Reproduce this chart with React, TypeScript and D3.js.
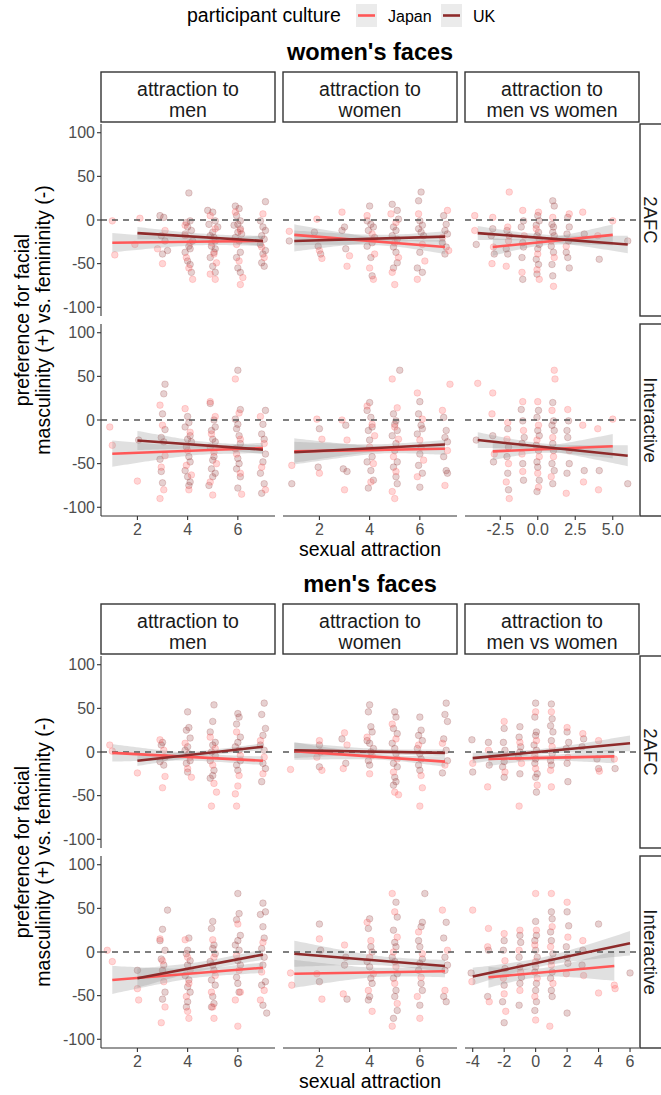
import React from "react";
import * as d3 from "d3";

// ---------- labels ----------
const legendTitle = "participant culture";
const cultures = ["Japan", "UK"];
const figureTitles = ["women's faces", "men's faces"];
const colLabels = [["attraction to", "men"], ["attraction to", "women"], ["attraction to", "men vs women"]];
const rowLabels = ["2AFC", "Interactive"];
const yTitle = ["preference for facial", "masculinity (+) vs. femininity (-)"];
const xTitle = "sexual attraction";
const yTicks = [-100, -50, 0, 50, 100];
const xTicksAbs = [2, 4, 6];
const xTicksDiffWomen = [-2.5, 0, 2.5, 5];
const xTicksDiffMen = [-4, -2, 0, 2, 4, 6];

// ---------- points (x y) ----------
// women, 2AFC
const wA1J = "1.0 -1,1.1 -40,2.1 2,1.9 -28,2.8 -33,3.0 -50,3.1 -12,3.9 -6,4.1 -26,3.95 -43,4.05 -55,4.2 -68,3.9 -18,4.9 5,5.1 -10,4.95 -26,5.05 -39,5.15 -49,4.9 -62,5.1 -68,5.9 9,6.1 -12,5.95 -28,6.05 -47,6.2 -66,6.1 -74,7.0 7,6.95 -31,7.05 -43";
const wA1U = "2.9 5,3.05 3,2.95 -18,3.1 -24,3.2 -35,3.0 -39,4.05 31,4.1 -1,3.95 -3,4.0 -8,4.15 -12,3.9 -16,4.2 -24,4.05 -30,4.1 -33,3.9 -37,4.0 -47,4.1 -51,4.15 -60,4.8 11,5.0 9,5.1 -1,4.85 -5,5.2 -8,5.0 -14,4.9 -18,5.05 -20,5.1 -24,4.95 -30,5.1 -33,5.05 -37,4.9 -43,5.0 -53,5.1 -60,5.9 16,6.05 13,5.95 5,6.1 -1,6.0 -5,5.85 -6,6.1 -10,6.0 -14,6.15 -16,5.9 -20,6.05 -24,6.1 -37,5.95 -43,6.0 -55,6.1 -60,7.1 21,6.9 -1,7.0 -8,7.1 -12,6.95 -18,7.05 -22,6.9 -28,7.1 -35,7.0 -39,6.95 -49,7.05 -53";
const wA2J = "0.8 -13,1.9 1,2.0 -35,2.1 -44,2.9 9,3.2 -41,3.1 -53,3.9 5,4.1 -16,4.2 -39,4.0 -55,4.15 -68,4.85 7,5.05 -3,5.0 -26,5.15 -43,4.9 -60,5.0 -74,5.95 7,6.1 -28,6.2 -47,5.9 -68,7.1 11,6.9 -20,7.15 -35";
const wA2U = "0.8 -24,1.8 -14,1.95 -30,2.05 -39,3.0 -8,2.9 -12,3.05 -33,4.0 16,3.9 -1,4.05 -5,4.15 -8,3.95 -12,4.2 -20,4.1 -26,3.9 -30,4.05 -43,4.1 -64,4.9 18,5.1 11,5.15 1,4.95 -8,5.05 -12,4.9 -18,5.1 -22,4.95 -31,5.05 -37,5.1 -49,4.95 -55,6.05 32,5.95 22,6.0 -1,6.1 -6,5.95 -10,6.05 -14,6.15 -18,6.0 -37,5.9 -55,6.1 -60,6.95 5,7.05 -5,7.0 -12,7.1 -16,6.9 -26,7.05 -31,7.0 -39";
const wA3J = "-4.2 5,-4.2 -12,-3.0 3,-2.95 -31,-3.05 -50,-2.0 -8,-1.95 -24,-2.1 -53,-1.9 32,-1.0 11,-0.9 -18,-1.05 -60,0.05 9,-0.1 -10,0.1 -22,0.0 -39,-0.05 -57,0.1 -68,1.0 3,0.9 -24,1.1 -43,1.05 -76,2.1 7,1.9 -30,3.0 9,4.0 -18,5.0 -1";
const wA3U = "-4.1 -28,-3.0 -10,-3.1 -18,-2.9 -39,-2.05 -12,-1.9 -18,-2.1 -33,-2.0 -39,-0.95 -1,-1.1 -8,-1.0 -26,-0.95 -31,-1.05 -43,-1.0 -68,0.0 5,0.1 -1,-0.1 -6,0.05 -14,-0.05 -18,0.1 -28,0.0 -33,-0.1 -45,0.05 -51,-0.05 -62,1.0 22,1.1 16,0.95 -5,1.05 -8,1.0 -14,1.1 -18,0.9 -30,1.05 -37,0.95 -51,1.0 -64,2.0 3,2.1 -8,1.95 -16,2.05 -24,1.9 -37,2.0 -43,2.1 -55,3.1 -16,4.1 -45,6.0 -24";
// women, Interactive
const wI1J = "0.9 -8,1.0 -29,2.0 -70,2.9 17,3.0 -6,3.1 -41,2.95 -54,3.05 -80,2.9 -90,3.9 13,4.1 -14,4.0 -35,3.95 -52,4.15 -63,4.05 -80,4.9 21,5.1 4,4.95 -16,5.05 -37,5.15 -50,4.9 -71,5.0 -86,5.9 47,6.05 8,6.1 -22,5.95 -39,6.1 -61,6.15 -85,6.9 4,7.05 -27,6.95 -54,7.1 -80";
const wI1U = "2.05 -23,3.1 41,3.05 30,3.0 7,3.1 -11,2.95 -20,3.05 -25,2.9 -45,2.95 -59,3.0 -72,4.0 4,4.05 -3,3.9 -8,4.1 -18,4.0 -22,4.15 -25,3.95 -31,4.05 -42,4.1 -48,3.9 -58,4.0 -65,4.1 -71,4.05 -75,4.9 19,5.05 0,5.1 -8,4.95 -12,5.0 -22,5.1 -25,4.9 -31,5.05 -42,5.0 -46,4.95 -56,5.1 -61,5.0 -65,4.85 -75,6.0 57,6.1 12,5.9 1,6.0 -5,5.95 -10,6.05 -18,6.1 -27,5.9 -33,6.0 -44,6.05 -50,5.95 -56,6.1 -65,6.0 -78,7.1 11,7.0 -5,6.95 -16,7.05 -22,7.1 -39,7.0 -48,6.9 -61,7.05 -73,6.95 -84";
const wI2J = "0.9 -52,1.9 1,2.1 -22,2.0 -61,2.9 0,3.1 -23,3.0 -80,3.9 16,4.1 -5,4.2 -18,4.0 -31,4.15 -50,4.05 -71,4.9 47,5.1 14,5.0 -8,5.15 -22,4.95 -42,5.05 -59,4.9 -82,5.0 -90,5.9 31,6.1 1,6.0 -23,6.15 -46,5.9 -65,7.2 41,6.9 11,7.1 -35,7.0 -75";
const wI2U = "0.9 -73,2.0 -10,1.95 -54,3.05 -6,2.95 -56,3.1 -59,4.0 20,3.9 11,4.05 3,4.1 -8,3.95 -12,4.0 -23,4.1 -42,3.9 -48,4.05 -58,4.15 -69,3.95 -78,5.2 57,4.95 7,5.05 -1,5.0 -5,5.1 -12,4.9 -18,5.05 -27,5.0 -35,5.1 -48,4.95 -54,5.05 -65,5.1 -73,6.0 21,5.95 7,6.05 -6,6.1 -10,5.9 -16,6.05 -31,6.0 -39,5.95 -52,6.1 -61,6.0 -77,6.95 3,7.05 -12,7.0 -20,7.1 -25,6.95 -42,7.05 -58,7.1 -61";
const wI3J = "-4.0 42,-3.0 31,-3.05 7,-2.9 -39,-2.0 -3,-2.05 -22,-1.95 -50,-2.1 -71,-1.9 -90,-1.0 21,-0.95 -12,-1.05 -39,-1.0 -59,0.0 21,0.05 -6,-0.05 -23,0.1 -42,0.0 -61,0.05 -77,1.1 57,1.15 47,0.95 11,1.0 -20,1.05 -42,0.9 -65,2.0 12,2.1 -35,1.9 -84,3.0 -6,3.05 -71,4.0 -10,4.05 -80,5.0 1";
const wI3U = "-4.1 -23,-3.0 -18,-2.95 -48,-2.0 -10,-1.95 -31,-2.05 -42,-2.0 -61,-1.95 -80,-1.1 12,-1.0 -1,-0.9 -20,-1.05 -27,-1.0 -50,-0.95 -69,0.05 11,-0.05 3,0.0 -12,0.1 -18,-0.1 -29,0.05 -35,-0.05 -48,0.0 -54,0.1 -69,-0.05 -82,1.0 20,1.05 -1,0.95 -6,1.1 -12,1.0 -27,1.05 -35,0.95 -50,1.1 -58,1.0 -73,2.05 -1,1.95 -12,2.0 -20,2.1 -50,1.95 -61,3.1 -58,4.1 -58,6.0 -73";
// men, 2AFC
const mA1J = "0.9 8,1.0 1,2.0 -24,2.9 14,3.05 2,3.1 -28,3.0 -41,3.9 10,4.1 -6,4.0 -19,4.15 -29,4.9 17,5.1 4,5.0 -15,5.05 -36,5.15 -46,4.95 -62,5.95 23,6.1 -4,6.05 -27,6.0 -39,5.9 -48,5.95 -62,6.9 13,7.05 -6,7.0 -25";
const mA1U = "3.0 11,2.95 8,3.1 -6,2.9 -11,3.05 -15,4.0 46,4.05 28,3.95 25,4.1 16,4.0 6,3.9 2,4.05 -2,4.1 -10,3.95 -13,4.0 -23,5.05 54,5.0 35,4.9 23,5.1 11,5.0 8,4.95 0,5.1 -4,4.9 -10,5.05 -21,5.0 -27,4.9 -30,6.0 44,6.05 40,5.95 32,6.1 17,6.0 11,5.9 6,6.05 2,6.1 -10,5.95 -15,6.0 -21,7.05 56,6.95 43,7.1 27,7.0 19,6.9 8,7.05 2,7.0 -13,7.1 -19,6.95 -34";
const mA2J = "0.85 -20,2.0 13,1.9 -6,2.1 -21,3.0 22,3.1 8,2.95 -19,3.9 17,4.1 -4,4.0 -25,4.9 32,5.05 15,5.1 -8,4.95 -23,5.0 -46,5.15 -49,5.95 8,6.05 -27,6.1 -41,6.0 -62,6.9 10,7.0 -15";
const mA2U = "2.0 8,2.05 0,2.0 -17,2.9 15,3.05 -13,4.0 54,3.95 46,4.05 29,4.1 23,3.9 13,4.0 10,4.15 4,4.05 0,3.95 -10,4.0 -15,5.0 46,5.05 40,4.95 27,5.1 21,4.9 10,5.0 4,5.05 -2,4.95 -13,5.1 -17,5.0 -29,5.05 -34,4.95 -38,6.0 40,6.05 25,5.95 19,6.1 13,5.9 4,6.0 -2,6.05 -8,5.95 -15,6.0 -21,7.05 56,7.0 43,7.1 35,6.95 15,7.05 2,7.1 -10,6.9 -24";
const mA3J = "-4.0 -13,-3.0 2,-3.05 -40,-2.0 35,-2.05 -6,-1.95 -23,-1.0 11,-0.9 -13,-1.05 -62,0.0 46,0.05 13,-0.05 -4,0.0 -19,0.1 -38,1.0 46,1.05 6,0.95 -21,1.0 -40,2.0 28,2.05 -6,3.0 21,4.0 13,4.05 -22,5.0 -8";
const mA3U = "-4.05 14,-4.0 -23,-3.0 11,-2.95 -15,-2.0 27,-2.05 11,-1.95 2,-2.0 -11,-2.1 -17,-2.0 -29,-1.0 29,-1.05 17,-0.95 6,-1.0 0,-1.1 -6,-1.0 -25,0.0 56,-0.05 40,0.05 23,0.0 19,-0.1 8,0.05 2,0.0 -8,-0.05 -13,0.1 -25,0.0 -29,0.05 -46,1.0 55,1.05 38,0.95 30,1.1 23,1.0 13,1.05 -2,0.95 -10,1.0 -15,2.0 23,2.1 11,1.95 4,2.0 -13,2.05 -34,3.05 15,2.95 6,3.9 -8,4.0 -19,5.05 -19";
// men, Interactive
const mI1J = "0.8 2,1.0 -11,2.0 -42,2.05 -55,2.9 15,3.0 -10,3.05 -34,3.1 -63,2.95 -81,3.9 14,4.0 -6,4.1 -21,4.05 -36,3.95 -51,4.0 -68,4.05 -76,5.0 14,5.05 -6,5.1 -27,4.95 -46,5.0 -63,5.05 -76,6.0 32,5.95 -4,6.05 -21,6.1 -46,5.9 -55,6.0 -85,7.0 11,6.95 -23,7.05 -44,6.9 -55";
const mI1U = "2.0 -21,3.2 48,3.0 26,2.9 13,3.1 2,2.95 -8,3.05 -15,3.0 -21,3.1 -46,3.0 -54,4.05 16,4.0 2,3.95 -2,4.1 -10,4.0 -15,3.9 -27,4.05 -32,4.0 -40,4.1 -46,4.0 -57,3.95 -63,5.0 35,4.95 27,5.05 8,5.0 4,5.1 -2,4.9 -11,5.0 -15,5.05 -21,4.95 -32,5.1 -38,5.0 -51,5.05 -59,4.95 -63,6.0 67,6.05 44,5.95 37,6.1 19,6.0 13,5.9 8,6.05 2,6.0 -10,6.1 -15,5.95 -29,6.0 -36,6.05 -46,7.0 56,7.1 46,6.9 43,7.0 29,7.05 16,6.95 4,7.05 -6,7.0 -15,7.1 -34,6.95 -38,7.0 -61,7.15 -70";
const mI2J = "0.85 -24,0.9 -38,2.0 15,1.9 -25,2.1 -54,3.0 8,2.95 -48,3.9 34,4.05 13,4.0 -6,4.15 -25,3.95 -44,4.1 -68,4.9 67,5.0 46,5.1 17,4.95 0,5.05 -17,5.0 -36,5.1 -59,4.9 -85,5.95 23,6.1 -2,6.05 -29,5.9 -51,6.0 -76,6.9 48,7.1 2,7.0 -44";
const mI2U = "2.0 32,2.05 2,2.0 -34,3.05 -6,3.0 -15,3.1 -54,4.0 38,3.95 27,4.05 6,4.1 0,3.9 -11,4.0 -17,4.05 -30,4.1 -36,4.0 -51,3.95 -55,5.05 57,5.1 40,4.95 25,5.0 11,5.05 6,4.9 -6,5.0 -11,5.1 -25,4.95 -30,5.05 -44,5.0 -51,5.1 -67,4.95 -76,6.2 67,6.1 34,6.05 29,5.95 13,6.0 6,6.1 -8,6.0 -13,5.95 -21,6.05 -36,6.1 -44,6.0 -61,7.05 34,6.95 16,7.0 -6,7.1 -15,7.0 -21,6.95 -51,7.05 -57";
const mI3J = "-4.0 48,-4.05 -34,-3.0 27,-3.05 6,-2.95 -57,-2.0 21,-1.95 -10,-2.05 -30,-2.0 -48,-1.9 -68,-1.0 25,-1.05 2,-0.95 -23,-1.0 -44,0.0 67,0.05 25,-0.05 8,0.0 -11,0.1 -30,-0.05 -51,0.0 -78,1.0 67,1.05 29,0.95 6,1.0 -15,1.1 -36,0.9 -85,2.0 57,2.05 17,1.95 -25,3.0 13,3.05 -27,4.0 -47,5.0 -38,5.05 -42";
const mI3U = "-4.1 -24,-3.0 2,-3.05 -51,-2.0 13,-2.05 2,-1.95 -19,-2.0 -38,-2.1 -57,-2.0 -81,-1.0 19,-0.95 11,-1.05 -6,-1.0 -17,-0.9 -29,-1.0 -36,-1.05 -61,0.0 35,0.05 19,-0.05 13,0.0 2,0.1 -6,0.0 -17,-0.05 -23,0.05 -36,0.0 -44,0.05 -57,-0.05 -67,1.0 46,1.05 38,0.95 23,1.0 13,1.1 -2,1.0 -10,1.05 -23,0.95 -30,1.0 -44,1.05 -51,2.0 46,2.1 30,1.95 6,2.0 -6,2.05 -13,2.0 -70,3.0 2,2.95 -15,4.0 32,6.0 -24";

// ---------- fitted lines: [x0, y0, x1, y1, ciLeft, ciMin, ciRight, xAtMin] ----------
const wA1Fit = { J: [1, -26, 7, -24, 11, 4, 6, 4.8], U: [2, -15, 7, -24, 7, 4, 6, 5] };
const wA2Fit = { J: [1, -17, 7, -31, 12, 4, 8, 4.7], U: [1, -24, 7, -19, 12, 4, 6, 4.8] };
const wA3Fit = { J: [-3, -31, 5, -17, 10, 4, 12, 0.3], U: [-4, -15, 6, -28, 8, 4, 10, 0.2] };
const wI1Fit = { J: [1, -38.6, 7, -32, 15, 5, 6, 4.8], U: [2, -23.5, 7, -34, 11, 4, 5, 5] };
const wI2Fit = { J: [1, -36, 7, -33, 15, 4, 7, 4.7], U: [1, -37, 7, -28, 12, 4, 5, 4.8] };
const wI3Fit = { J: [-3, -36, 5, -30, 10, 4, 14, 0.3], U: [-4, -23, 6, -41, 9, 4, 12, 0.2] };
const mA1Fit = { J: [1, -1, 7, -10, 10, 4, 5, 4.8], U: [2, -10, 7, 6, 6, 3, 4, 5] };
const mA2Fit = { J: [1, 1, 7, -11, 10, 3, 6, 4.7], U: [1, 2, 7, -1, 9, 3, 4, 4.8] };
const mA3Fit = { J: [-3, -8, 5, -5, 8, 3, 8, 0.3], U: [-4, -7, 6, 10, 6, 3, 9, 0.2] };
const mI1Fit = { J: [1, -32, 7, -18, 16, 5, 6, 4.8], U: [2, -30, 7, -3, 11, 5, 6, 5] };
const mI2Fit = { J: [1, -25, 7, -22, 16, 5, 7, 4.7], U: [1, -2, 7, -16, 15, 5, 7, 4.8] };
const mI3Fit = { J: [-3, -29, 5, -16, 12, 5, 17, 0.3], U: [-4, -28, 6, 10, 10, 5, 14, 0.2] };

// ---------- style ----------
const colJ = "#ff5757";
const colU = "#8e2b2b";
const font = "'Liberation Sans', Arial, Helvetica, sans-serif";
const axisCol = "#333333";
const tickTextCol = "#4d4d4d";
const bigFont = 19.5;
const tickFont = 16;

const parsePts = (s: string) => s.split(",").map((p) => p.trim().split(/\s+/).map(Number));

const colLefts = [101, 283, 465];
const panelW = 174;
const panelH = 192;
const absDomain = [0.55, 7.48];

const figures = [
  {
    title: figureTitles[0], titleY: 60, stripTop: 72, rowTops: [124, 324],
    diffDomain: [-4.85, 6.75], diffTicks: xTicksDiffWomen, diffFmt: (v: number) => v.toFixed(1),
    pts: [[[wA1J, wA1U], [wA2J, wA2U], [wA3J, wA3U]], [[wI1J, wI1U], [wI2J, wI2U], [wI3J, wI3U]]],
    fits: [[wA1Fit, wA2Fit, wA3Fit], [wI1Fit, wI2Fit, wI3Fit]],
  },
  {
    title: figureTitles[1], titleY: 592, stripTop: 604, rowTops: [656, 856],
    diffDomain: [-4.49, 6.57], diffTicks: xTicksDiffMen, diffFmt: (v: number) => String(v),
    pts: [[[mA1J, mA1U], [mA2J, mA2U], [mA3J, mA3U]], [[mI1J, mI1U], [mI2J, mI2U], [mI3J, mI3U]]],
    fits: [[mA1Fit, mA2Fit, mA3Fit], [mI1Fit, mI2Fit, mI3Fit]],
  },
];

function band(fit: number[], xs: d3.ScaleLinear<number, number>, ys: d3.ScaleLinear<number, number>) {
  const [x0, y0, x1, y1, hL, hM, hR, xm] = fit;
  const kL = Math.sqrt(Math.max(hL * hL - hM * hM, 0)) / Math.max(xm - x0, 0.01);
  const kR = Math.sqrt(Math.max(hR * hR - hM * hM, 0)) / Math.max(x1 - xm, 0.01);
  const n = 50;
  const pts: { x: number; lo: number; hi: number }[] = [];
  for (let i = 0; i <= n; i++) {
    const x = x0 + ((x1 - x0) * i) / n;
    const yv = y0 + ((y1 - y0) * (x - x0)) / (x1 - x0);
    const k = x < xm ? kL : kR;
    const hw = Math.sqrt(hM * hM + k * k * (x - xm) * (x - xm));
    pts.push({ x, lo: yv - hw, hi: yv + hw });
  }
  const area = d3.area<{ x: number; lo: number; hi: number }>()
    .x((d) => xs(d.x)).y0((d) => ys(d.lo)).y1((d) => ys(d.hi));
  return area(pts) || "";
}

function Panel({ left, top, xDomain, ptStrs, fit, showY, showX, xTicks, fmt }: any) {
  const xs = d3.scaleLinear().domain(xDomain).range([left, left + panelW]);
  const ys = d3.scaleLinear().domain([-110, 110]).range([top + panelH, top]);
  const jp = parsePts(ptStrs[0]);
  const uk = parsePts(ptStrs[1]);
  const bottom = top + panelH;
  return (
    <g>
      {uk.map((p, i) => (
        <circle key={"u" + i} cx={xs(p[0])} cy={ys(p[1])} r={3.3} fill={colU} fillOpacity={0.22} stroke={colU} strokeOpacity={0.25} strokeWidth={0.8} />
      ))}
      {jp.map((p, i) => (
        <circle key={"j" + i} cx={xs(p[0])} cy={ys(p[1])} r={3.3} fill={colJ} fillOpacity={0.25} stroke={colJ} strokeOpacity={0.25} strokeWidth={0.8} />
      ))}
      <path d={band(fit.J, xs, ys)} fill="#999" fillOpacity={0.3} />
      <path d={band(fit.U, xs, ys)} fill="#999" fillOpacity={0.3} />
      <line x1={left} x2={left + panelW} y1={ys(0)} y2={ys(0)} stroke="#555" strokeWidth={1.3} strokeDasharray="6,5" />
      <line x1={xs(fit.J[0])} y1={ys(fit.J[1])} x2={xs(fit.J[2])} y2={ys(fit.J[3])} stroke={colJ} strokeWidth={2.6} />
      <line x1={xs(fit.U[0])} y1={ys(fit.U[1])} x2={xs(fit.U[2])} y2={ys(fit.U[3])} stroke={colU} strokeWidth={2.6} />
      {showY && (
        <g>
          <line x1={left} x2={left} y1={top} y2={bottom} stroke={axisCol} strokeWidth={1.1} />
          {yTicks.map((t) => (
            <g key={t}>
              <line x1={left - 4} x2={left} y1={ys(t)} y2={ys(t)} stroke={axisCol} strokeWidth={1.1} />
              <text x={left - 6} y={ys(t) + 5.7} textAnchor="end" fontSize={tickFont} fill={tickTextCol} fontFamily={font}>{t}</text>
            </g>
          ))}
        </g>
      )}
      {showX && (
        <g>
          <line x1={left} x2={left + panelW} y1={bottom} y2={bottom} stroke={axisCol} strokeWidth={1.1} />
          {xTicks.map((t: number) => (
            <g key={t}>
              <line x1={xs(t)} x2={xs(t)} y1={bottom} y2={bottom + 4} stroke={axisCol} strokeWidth={1.1} />
              <text x={xs(t)} y={bottom + 19} textAnchor="middle" fontSize={tickFont} fill={tickTextCol} fontFamily={font}>{fmt(t)}</text>
            </g>
          ))}
        </g>
      )}
    </g>
  );
}

export default function App() {
  const panelsCenter = colLefts[0] + (colLefts[2] + panelW - colLefts[0]) / 2;
  return (
    <svg width={661} height={1095} style={{ position: "absolute", left: 0, top: 0, background: "#fff" }} fontFamily={font}>
      <rect x={0} y={0} width={661} height={1095} fill="#fff" />
      {/* legend */}
      <text x={187} y={22} fontSize={bigFont} fill="#000">{legendTitle}</text>
      {cultures.map((c, i) => {
        const kx = i === 0 ? 356 : 441;
        return (
          <g key={c}>
            <rect x={kx} y={4} width={21} height={23} fill="#ebebeb" />
            <line x1={kx + 2} x2={kx + 19} y1={15.5} y2={15.5} stroke={i === 0 ? colJ : colU} strokeWidth={2.6} />
            <text x={kx + 32} y={21.5} fontSize={16} fill="#000">{c}</text>
          </g>
        );
      })}
      {figures.map((f, fi) => {
        const panelsTop = f.rowTops[0];
        const panelsBottom = f.rowTops[1] + panelH;
        const midY = (panelsTop + panelsBottom) / 2;
        return (
          <g key={fi}>
            <text x={panelsCenter} y={f.titleY} textAnchor="middle" fontSize={23.5} fontWeight="bold" fill="#000">{f.title}</text>
            {colLabels.map((lab, ci) => (
              <g key={ci}>
                <rect x={colLefts[ci]} y={f.stripTop} width={panelW} height={50} fill="#fff" stroke="#333" strokeWidth={1.4} />
                <text x={colLefts[ci] + panelW / 2} y={f.stripTop + 24} textAnchor="middle" fontSize={bigFont} fill="#1a1a1a">{lab[0]}</text>
                <text x={colLefts[ci] + panelW / 2} y={f.stripTop + 44.5} textAnchor="middle" fontSize={bigFont} fill="#1a1a1a">{lab[1]}</text>
              </g>
            ))}
            {rowLabels.map((rl, ri) => {
              const top = f.rowTops[ri];
              return (
                <g key={rl}>
                  <rect x={640} y={top} width={40} height={panelH} fill="#fff" stroke="#333" strokeWidth={1.4} />
                  <text transform={`translate(644,${top + panelH / 2}) rotate(90)`} textAnchor="middle" fontSize={18.5} fill="#1a1a1a">{rl}</text>
                  {[0, 1, 2].map((ci) => (
                    <Panel
                      key={ci}
                      left={colLefts[ci]}
                      top={top}
                      xDomain={ci === 2 ? f.diffDomain : absDomain}
                      ptStrs={f.pts[ri][ci]}
                      fit={f.fits[ri][ci]}
                      showY={ci === 0}
                      showX={ri === 1}
                      xTicks={ci === 2 ? f.diffTicks : xTicksAbs}
                      fmt={ci === 2 ? f.diffFmt : (v: number) => String(v)}
                    />
                  ))}
                </g>
              );
            })}
            <text transform={`translate(29,${midY}) rotate(-90)`} textAnchor="middle" fontSize={bigFont} fill="#000">{yTitle[0]}</text>
            <text transform={`translate(50,${midY}) rotate(-90)`} textAnchor="middle" fontSize={bigFont} fill="#000">{yTitle[1]}</text>
            <text x={panelsCenter} y={panelsBottom + 40} textAnchor="middle" fontSize={bigFont} fill="#000">{xTitle}</text>
          </g>
        );
      })}
    </svg>
  );
}
